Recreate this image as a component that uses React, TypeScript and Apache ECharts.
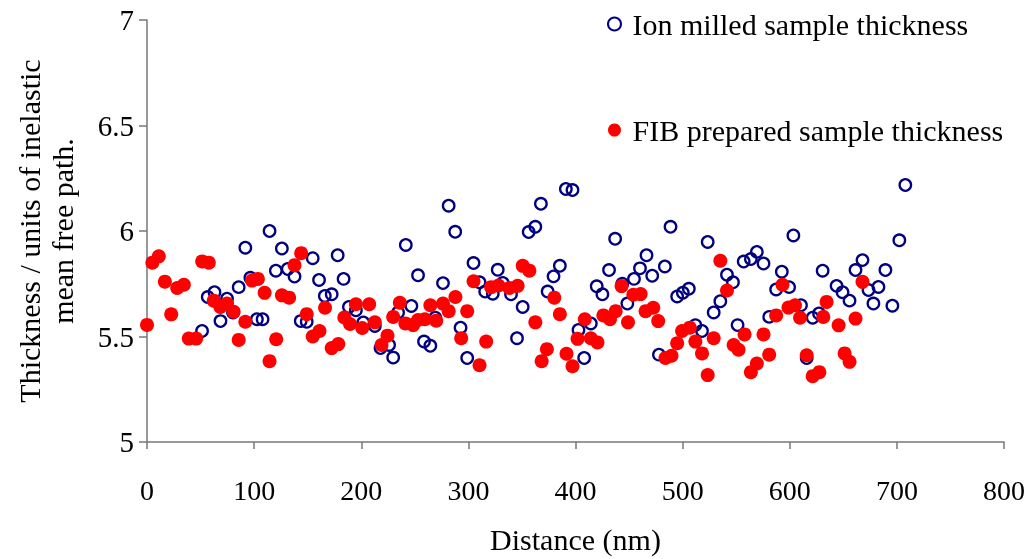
import React, { useEffect, useRef } from "react";
import * as echarts from "echarts";

const ionX = [51.4, 56.7, 63, 68.6, 74.7, 80.3, 85.6, 91.8, 96.5, 102.6, 107.9, 114.4, 120.3, 125.9, 131.4, 137.7, 143.5, 149.1, 154.7, 160.6, 166, 172.4, 178, 183.5, 188.5, 195, 201.9, 212.7, 218, 226, 229.8, 234.4, 241.6, 246.8, 253, 258.6, 264.5, 269.1, 276.3, 281.6, 287.7, 292.7, 298.9, 304.8, 310.4, 315.7, 322.8, 327.4, 332.1, 339.8, 345.4, 350.7, 356.3, 362.5, 367.7, 374, 379.5, 385.4, 391, 397.2, 402.8, 408.1, 414.3, 419.8, 425.1, 431.3, 437, 443.7, 448.4, 454.6, 460.2, 466.3, 471.6, 477.9, 483.4, 488.7, 494.9, 500.2, 505.8, 511.9, 518.1, 523.4, 529, 535.2, 541.4, 547, 551.3, 557, 563.7, 569.3, 575.5, 580.8, 587.3, 592.6, 599.4, 603.4, 610.5, 615.8, 621.4, 627.3, 630.7, 643.7, 649.3, 655.8, 661.4, 667.9, 673.5, 678.1, 682.8, 689.3, 695.8, 702.3, 707.9];
const ionY = [5.526, 5.687, 5.71, 5.573, 5.679, 5.614, 5.734, 5.921, 5.778, 5.582, 5.582, 6.0, 5.812, 5.917, 5.82, 5.784, 5.573, 5.57, 5.871, 5.768, 5.692, 5.7, 5.885, 5.773, 5.64, 5.624, 5.567, 5.55, 5.445, 5.46, 5.4, 5.614, 5.934, 5.645, 5.79, 5.476, 5.456, 5.589, 5.753, 6.12, 5.996, 5.542, 5.398, 5.848, 5.757, 5.713, 5.703, 5.816, 5.754, 5.7, 5.492, 5.64, 5.995, 6.02, 6.129, 5.713, 5.785, 5.835, 6.199, 6.194, 5.531, 5.398, 5.562, 5.738, 5.7, 5.815, 5.963, 5.75, 5.656, 5.773, 5.823, 5.885, 5.788, 5.414, 5.832, 6.02, 5.69, 5.707, 5.726, 5.554, 5.526, 5.948, 5.614, 5.667, 5.793, 5.757, 5.554, 5.855, 5.867, 5.901, 5.846, 5.593, 5.723, 5.807, 5.734, 5.979, 5.648, 5.398, 5.589, 5.609, 5.812, 5.74, 5.71, 5.67, 5.815, 5.862, 5.72, 5.656, 5.735, 5.815, 5.646, 5.956, 6.218];

const fibX = [0, 5, 11, 16.7, 22.6, 28.2, 34.4, 39, 45.9, 51.5, 57.7, 62.3, 68.5, 74.7, 80.9, 85.6, 91.8, 98, 103.5, 109.8, 114.4, 120.6, 125.9, 132.7, 137.7, 143.9, 149.1, 154.7, 161, 166.2, 172.4, 178.6, 184.2, 189.5, 195, 200.9, 207.4, 212.7, 218.9, 224.5, 229.8, 236, 241.2, 248.4, 253, 259.3, 264.5, 270, 276.3, 281.6, 287.9, 293.3, 298.9, 304.8, 310.4, 316.6, 321.2, 328.1, 338.3, 346, 350.7, 356.9, 362.5, 368.4, 373.3, 380.2, 385.4, 391.6, 397.2, 401.9, 408.7, 414.3, 420.5, 426, 432.2, 437.5, 443, 449, 454, 460.8, 465.4, 472.6, 477.2, 484, 489.6, 494.9, 499.5, 506.7, 511.9, 518.1, 523.4, 529, 535.2, 541.4, 547.6, 552.2, 557.8, 563.7, 569.3, 575.5, 580.8, 587.3, 593.2, 598.8, 604.9, 609.6, 615.8, 621.4, 627.6, 631.3, 634.4, 645.6, 651.2, 655.8, 661.4, 667.9];
const fibY = [5.555, 5.85, 5.88, 5.76, 5.605, 5.73, 5.745, 5.49, 5.49, 5.856, 5.85, 5.67, 5.64, 5.656, 5.617, 5.484, 5.57, 5.765, 5.773, 5.707, 5.383, 5.487, 5.695, 5.684, 5.838, 5.895, 5.606, 5.5, 5.526, 5.636, 5.445, 5.464, 5.59, 5.559, 5.653, 5.54, 5.653, 5.567, 5.46, 5.504, 5.593, 5.66, 5.562, 5.554, 5.578, 5.582, 5.648, 5.575, 5.656, 5.62, 5.687, 5.492, 5.62, 5.762, 5.364, 5.476, 5.734, 5.742, 5.73, 5.74, 5.835, 5.812, 5.567, 5.383, 5.44, 5.684, 5.606, 5.418, 5.359, 5.489, 5.582, 5.492, 5.472, 5.6, 5.582, 5.62, 5.739, 5.567, 5.698, 5.701, 5.62, 5.636, 5.573, 5.398, 5.409, 5.468, 5.526, 5.542, 5.476, 5.42, 5.317, 5.492, 5.859, 5.718, 5.46, 5.437, 5.51, 5.331, 5.372, 5.51, 5.414, 5.6, 5.745, 5.637, 5.648, 5.589, 5.411, 5.312, 5.331, 5.593, 5.664, 5.553, 5.42, 5.38, 5.585, 5.759];

const seriesNames = ["Ion milled sample thickness", "FIB prepared sample thickness"];
const xTitle = "Distance (nm)";
const yTitle = "Thickness / units of inelastic\nmean free path.";

const FONT = "'Liberation Serif', 'Times New Roman', serif";

export default function App() {
  const ref = useRef<HTMLDivElement>(null);
  useEffect(() => {
    if (!ref.current) return;
    const chart = echarts.init(ref.current, undefined, { renderer: "svg" });
    const ion = ionX.map((x, i) => [x, ionY[i]]);
    const fib = fibX.map((x, i) => [x, fibY[i]]);
    chart.setOption({
      animation: false,
      textStyle: { fontFamily: FONT, color: "#000" },
      grid: { left: 147, right: 30, top: 20, bottom: 115, containLabel: false },
      legend: {
        orient: "vertical",
        left: 602,
        top: 3,
        itemWidth: 26,
        itemHeight: 13,
        itemGap: 74,
        textStyle: { fontFamily: FONT, fontSize: 30, color: "#000", lineHeight: 32 },
        data: seriesNames,
      },
      xAxis: {
        type: "value",
        min: 0,
        max: 800,
        interval: 100,
        name: xTitle,
        nameLocation: "middle",
        nameGap: 82,
        nameTextStyle: { fontFamily: FONT, fontSize: 30, color: "#000" },
        axisLine: { show: true, onZero: false, lineStyle: { color: "#777", width: 1.5 } },
        axisTick: { show: true, inside: false, length: 7, lineStyle: { color: "#777", width: 1.5 } },
        axisLabel: { fontFamily: FONT, fontSize: 28, color: "#000", margin: 34 },
        splitLine: { show: false },
      },
      yAxis: {
        type: "value",
        min: 5,
        max: 7,
        interval: 0.5,
        name: yTitle,
        nameLocation: "middle",
        nameGap: 68,
        nameRotate: 90,
        nameTextStyle: { fontFamily: FONT, fontSize: 30, color: "#000", lineHeight: 33, align: "center" },
        axisLine: { show: true, lineStyle: { color: "#777", width: 1.5 } },
        axisTick: { show: true, inside: false, length: 8, lineStyle: { color: "#777", width: 1.5 } },
        axisLabel: { fontFamily: FONT, fontSize: 29, color: "#000", margin: 13 },
        splitLine: { show: false },
      },
      series: [
        {
          name: seriesNames[0],
          type: "scatter",
          data: ion,
          symbol: "circle",
          symbolSize: 11.5,
          itemStyle: { color: "rgba(255,255,255,0)", borderColor: "#000080", borderWidth: 2.3, opacity: 1 },
        },
        {
          name: seriesNames[1],
          type: "scatter",
          data: fib,
          symbol: "circle",
          symbolSize: 14,
          itemStyle: { color: "#ff0000", opacity: 1 },
        },
      ],
    });
    return () => chart.dispose();
  }, []);
  return <div ref={ref} style={{ position: "fixed", left: 0, top: 0, width: 1034, height: 559 }} />;
}
